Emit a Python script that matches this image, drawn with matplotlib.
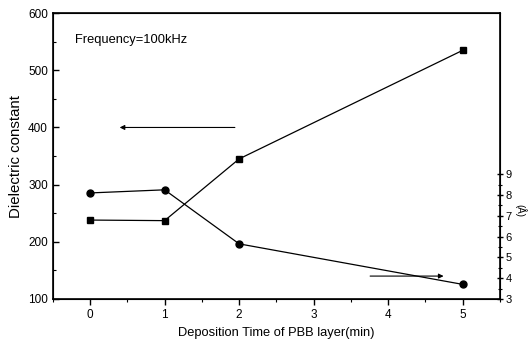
import numpy as np
import matplotlib.pyplot as plt
from matplotlib.ticker import MultipleLocator, FixedLocator

plt.rcParams['font.family'] = ['Liberation Sans', 'DejaVu Sans']

# deposition time (min)
time_min = [0, 1, 2, 5]
# dielectric constant (left axis, squares)
dielectric = [238, 237, 345, 535]
# right axis values (circles)
thickness = [8.1, 8.25, 5.65, 3.7]
right_ticks = [3, 4, 5, 6, 7, 8, 9]

fig = plt.figure(figsize=(5.28, 3.46), dpi=100)
ax = fig.add_axes([0.100, 0.136, 0.847, 0.826])

ax.plot(time_min, dielectric, color='black', lw=0.9, marker='s', ms=5)
ax.set_xlim(-0.5, 5.5)
ax.set_ylim(100, 600)
ax.set_xticks([0, 1, 2, 3, 4, 5])
ax.xaxis.set_minor_locator(MultipleLocator(0.5))
ax.yaxis.set_major_locator(MultipleLocator(100))
ax.yaxis.set_minor_locator(MultipleLocator(50))
ax.tick_params(axis='y', which='both', direction='in', labelsize=8.5)
ax.tick_params(axis='x', which='both', direction='out', labelsize=8.5)
ax.tick_params(which='major', length=4, width=1)
ax.tick_params(which='minor', length=2, width=0.8)
ax.set_xlabel('Deposition Time of PBB layer(min)', fontsize=9.3)
ax.set_ylabel('Dielectric constant', fontsize=10.8, labelpad=4)
for s in ax.spines.values():
    s.set_linewidth(1.2)

ax2 = ax.twinx()
ax2.plot(time_min, thickness, color='black', lw=0.9, marker='o', ms=5)
ax2.set_yticks(right_ticks)
ax2.yaxis.set_minor_locator(FixedLocator(np.arange(3.5, 9, 1.0)))
ax2.set_ylim(3, 16.75)
ax2.tick_params(axis='y', which='both', direction='inout', labelsize=8, pad=1.5)
ax2.tick_params(which='major', length=5, width=1)
ax2.tick_params(which='minor', length=3, width=0.8)
ax2.set_ylabel('(Å)', fontsize=7, rotation=270, va='center')
ax2.yaxis.set_label_coords(1.046, 0.31)

ax.text(0.05, 0.905, 'Frequency=100kHz', transform=ax.transAxes,
        fontsize=9.3, va='center')

# arrows indicating which axis each curve belongs to
ax.annotate('', xy=(0.36, 400), xytext=(1.98, 400),
            arrowprops=dict(arrowstyle='-|>', color='black', lw=0.8, mutation_scale=7))
ax2.annotate('', xy=(4.78, 4.1), xytext=(3.72, 4.1),
             arrowprops=dict(arrowstyle='-|>', color='black', lw=0.8, mutation_scale=7))

fig.savefig('out.png', dpi=100)
